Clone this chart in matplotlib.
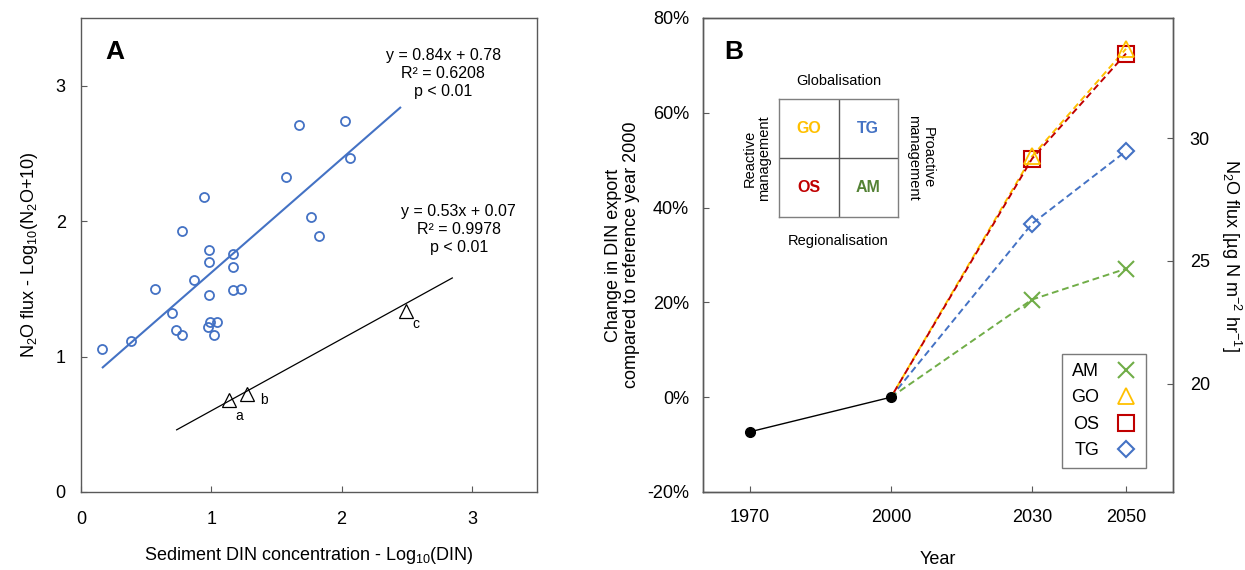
import matplotlib
matplotlib.use("Agg")
import matplotlib.pyplot as plt
import numpy as np
from matplotlib.ticker import FuncFormatter

plt.rcParams['font.family'] = ['Liberation Sans', 'DejaVu Sans']
plt.rcParams['mathtext.fontset'] = 'custom'
plt.rcParams['mathtext.rm'] = 'Liberation Sans'
plt.rcParams['mathtext.it'] = 'Liberation Sans:italic'
plt.rcParams['mathtext.default'] = 'regular'

# ---------------- Panel A data ----------------
din_log = [0.159, 0.381, 0.568, 0.696, 0.727, 0.775, 0.777, 0.867, 0.944, 0.980,
           0.980, 0.980, 0.972, 0.990, 1.046, 1.018, 1.169, 1.169, 1.169, 1.228,
           1.573, 1.671, 1.767, 1.824, 2.024, 2.064]
n2o_log = [1.055, 1.116, 1.496, 1.321, 1.193, 1.159, 1.926, 1.568, 2.178, 1.790,
           1.696, 1.457, 1.222, 1.255, 1.252, 1.159, 1.759, 1.662, 1.489, 1.496,
           2.324, 2.707, 2.033, 1.889, 2.739, 2.464]
ref_labels = ['a', 'b', 'c']
ref_din = [1.136, 1.274, 2.494]
ref_n2o = [0.68, 0.72, 1.333]
fit1_slope, fit1_int = 0.84, 0.78
fit1_range = [0.167, 2.45]
fit2_slope, fit2_int = 0.53, 0.07
fit2_range = [0.734, 2.85]
fit1_text = "y = 0.84x + 0.78\nR² = 0.6208\np < 0.01"
fit2_text = "y = 0.53x + 0.07\nR² = 0.9978\np < 0.01"

# ---------------- Panel B data ----------------
hist_years = [1970, 2000]
hist_change = [-7.3, 0.0]
scen_years = [2000, 2030, 2050]
scenarios = ['AM', 'GO', 'OS', 'TG']
scen_change = {
    'AM': [0.0, 20.6, 27.1],
    'GO': [0.0, 50.8, 73.5],
    'OS': [0.0, 50.3, 72.5],
    'TG': [0.0, 36.6, 51.9],
}
year_ticks = [1970, 2000, 2030, 2050]
pct_ticks = [-20, 0, 20, 40, 60, 80]
flux_ticks = [20, 25, 30]
flux_lim = (15.58, 34.9)

colors = {'AM': '#70AD47', 'GO': '#FFC000', 'OS': '#C00000', 'TG': '#4472C4'}
markers = {'AM': 'x', 'GO': '^', 'OS': 's', 'TG': 'D'}
msizes = {'AM': 12, 'GO': 11, 'OS': 12, 'TG': 8}
spine_c = '#595959'
blue = '#4472C4'

W, H = 1245, 570
fig = plt.figure(figsize=(W / 100, H / 100), dpi=100)

def fr(l, t, r, b):
    return [l / W, 1 - b / H, (r - l) / W, (b - t) / H]

# ---------------- Panel A ----------------
axA = fig.add_axes(fr(81, 18, 537, 492))
axA.plot(din_log, n2o_log, 'o', ls='none', mfc='none', mec=blue, mew=1.3, ms=6.5)
xs = np.array(fit1_range)
axA.plot(xs, fit1_slope * xs + fit1_int, color=blue, lw=1.5)
xs2 = np.array(fit2_range)
axA.plot(xs2, fit2_slope * xs2 + fit2_int, color='black', lw=0.9)
axA.plot(ref_din, ref_n2o, '^', ls='none', mfc='none', mec='black', mew=0.9, ms=10)
offs = [(0.08, -0.12), (0.13, -0.04), (0.08, -0.09)]
for lab, x, y, (dx, dy) in zip(ref_labels, ref_din, ref_n2o, offs):
    axA.text(x + dx, y + dy, lab, fontsize=10, ha='center', va='center')
axA.text(2.78, 3.09, fit1_text, ha='center', va='center', multialignment='center',
         fontsize=11.5, linespacing=1.25)
axA.text(2.90, 1.935, fit2_text, ha='center', va='center', multialignment='center',
         fontsize=11.5, linespacing=1.25)
axA.set_xlim(0, 3.5)
axA.set_ylim(0, 3.5)
axA.set_xticks([0, 1, 2, 3])
axA.set_yticks([0, 1, 2, 3])
axA.tick_params(direction='in', length=4, labelsize=13, color=spine_c)
axA.tick_params(axis='x', pad=14)
axA.tick_params(axis='y', pad=11)
axA.set_xlabel('Sediment DIN concentration - Log$_{10}$(DIN)', fontsize=13, labelpad=12)
axA.set_ylabel('N$_2$O flux - Log$_{10}$(N$_2$O+10)', fontsize=13, labelpad=11)
axA.text(0.075, 0.928, 'A', transform=axA.transAxes, fontsize=19, fontweight='bold',
         ha='center', va='center')
for s in axA.spines.values():
    s.set_color(spine_c)
    s.set_linewidth(1.0)

# ---------------- Panel B ----------------
axB = fig.add_axes(fr(703, 18, 1173, 492))
order = ['AM', 'TG', 'GO', 'OS']
dash = {'AM': (0, (3.5, 2)), 'TG': (0, (3.5, 2)), 'GO': (0, (3.5, 2)), 'OS': (2.5, (3.5, 2))}
for sc in order:
    axB.plot(scen_years, scen_change[sc], color=colors[sc], lw=1.4, ls=dash[sc], zorder=2)
handles = {}
for sc in ['AM', 'TG', 'OS', 'GO']:
    mew = 1.5 if sc != 'GO' else 1.3
    h, = axB.plot(scen_years[1:], scen_change[sc][1:], ls='none', marker=markers[sc],
                  ms=msizes[sc], mfc='none', mec=colors[sc], mew=mew, zorder=3, label=sc)
    handles[sc] = h
axB.plot(hist_years, hist_change, color='black', lw=1.0, marker='o', ms=7, zorder=4)
axB.set_xlim(1960, 2060)
axB.set_ylim(-20, 80)
axB.set_xticks(year_ticks)
axB.set_yticks(pct_ticks)
axB.yaxis.set_major_formatter(FuncFormatter(lambda v, p: f'{v:.0f}%'))
axB.tick_params(direction='in', length=4, labelsize=13, color=spine_c)
axB.tick_params(axis='x', pad=12)
axB.tick_params(axis='y', pad=10)
axB.set_xlabel('Year', fontsize=13, labelpad=18)
axB.set_ylabel('Change in DIN export\ncompared to reference year 2000', fontsize=13,
               labelpad=5, linespacing=1.1)
axB.text(0.066, 0.928, 'B', transform=axB.transAxes, fontsize=19, fontweight='bold',
         ha='center', va='center')
for s in axB.spines.values():
    s.set_color(spine_c)
    s.set_linewidth(1.0)

leg = axB.legend([handles[s] for s in scenarios], scenarios, loc='lower right',
                 bbox_to_anchor=(0.9426, 0.05), borderaxespad=0, markerfirst=False,
                 frameon=True, fancybox=False, fontsize=13, handlelength=1.2,
                 handletextpad=0.9, labelspacing=0.52, borderpad=0.5)
leg.get_frame().set_edgecolor(spine_c)
leg.get_frame().set_linewidth(1.0)

ax2 = axB.twinx()
ax2.set_ylim(*flux_lim)
ax2.set_yticks(flux_ticks)
ax2.tick_params(direction='in', length=4, labelsize=13, color=spine_c, pad=12)
ax2.set_ylabel('N$_2$O flux [µg N m$^{-2}$ hr$^{-1}$]', fontsize=13, rotation=-90,
               labelpad=24)
for s in ax2.spines.values():
    s.set_color(spine_c)
    s.set_linewidth(1.0)

# ---------------- Inset scenario matrix ----------------
axI = fig.add_axes(fr(779, 99, 898, 217))
axI.set_xlim(0, 2)
axI.set_ylim(0, 2)
axI.set_xticks([])
axI.set_yticks([])
for s in axI.spines.values():
    s.set_color('#7f7f7f')
    s.set_linewidth(1.0)
axI.axvline(1, color='#595959', lw=1.0)
axI.axhline(1, color='#595959', lw=1.0)
cells = {'GO': (0.5, 1.5, '#FFC000'), 'TG': (1.5, 1.5, '#4472C4'),
         'OS': (0.5, 0.5, '#C00000'), 'AM': (1.5, 0.5, '#548235')}
for k, (x, y, c) in cells.items():
    axI.text(x, y, k, color=c, fontsize=11.5, fontweight='bold', ha='center', va='center')
axI.text(1, 2.31, 'Globalisation', fontsize=10.5, ha='center', va='center', clip_on=False)
axI.text(1, -0.41, 'Regionalisation', fontsize=10.5, ha='center', va='center', clip_on=False)
axI.text(-0.37, 1, 'Reactive\nmanagement', fontsize=10.5, ha='center', va='center',
         rotation=90, clip_on=False, linespacing=1.1)
axI.text(2.38, 1, 'Proactive\nmanagement', fontsize=10.5, ha='center', va='center',
         rotation=-90, clip_on=False, linespacing=1.1)

fig.savefig('out.png', dpi=100)
